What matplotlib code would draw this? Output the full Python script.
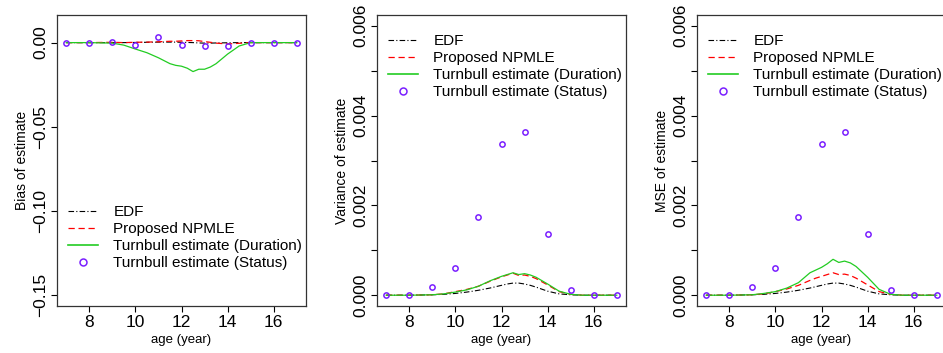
import matplotlib
matplotlib.use("Agg")
import matplotlib.pyplot as plt
from matplotlib.lines import Line2D

plt.rcParams['font.family'] = ['Liberation Sans', 'DejaVu Sans']

# grid ages for the smooth curves
ages = [7, 8, 9, 9.5, 10, 10.5, 11, 11.5, 11.75, 12, 12.25, 12.5, 12.75,
        13, 13.25, 13.5, 14, 14.5, 15, 15.5, 16, 17]
# integer ages for the Turnbull (status) points
ages_status = [7, 8, 9, 10, 11, 12, 13, 14, 15, 16, 17]

# bias
bias_edf = [0, 0, 0, 0, 0.0001, 0.0002, 0.0003, 0.0003, 0.0003, 0.0002, 0.0001,
            0, -0.0002, -0.0003, -0.0003, -0.0002, -0.0001, 0, 0, 0, 0, 0]
bias_npmle = [0, 0, 0.0002, 0, 0.0002, 0.0003, 0.0005, 0.0008, 0.0008, 0.001,
              0.0012, 0.0012, 0.0011, 0.0006, 0.0002, -0.0003, -0.0008,
              -0.0004, 0, 0, 0, 0]
bias_dur = [0, 0, -0.0003, -0.0015, -0.0038, -0.006, -0.009, -0.0125, -0.0135, -0.014,
            -0.0152, -0.0172, -0.0158, -0.0158, -0.0145, -0.0125, -0.0068,
            -0.002, 0, 0, 0, 0]
bias_status = [0, 0, 0.0006, -0.0014, 0.0032, -0.0016, -0.0022, -0.002, 0, 0, 0]

# variance
var_edf = [0, 0, 0.00001, 0.00002, 0.00004, 0.00007, 0.00011, 0.00016, 0.00019,
           0.00022, 0.00025, 0.00027, 0.00027, 0.00025, 0.00022, 0.00018,
           0.00009, 0.00003, 0.00001, 0, 0, 0]
var_npmle = [0, 0, 0.00001, 0.00003, 0.00008, 0.00013, 0.0002, 0.00031, 0.00036,
             0.00041, 0.00045, 0.00049, 0.00044, 0.00045, 0.00042, 0.00037,
             0.00023, 0.00008, 0.00002, 0, 0, 0]
var_dur = [0, 0, 0.00001, 0.00003, 0.00007, 0.00012, 0.0002, 0.00032, 0.00037,
           0.00042, 0.00046, 0.0005, 0.00046, 0.00048, 0.00045, 0.0004,
           0.00025, 0.00009, 0.00002, 0, 0, 0]
var_status = [0, 0, 0.00019, 0.00061, 0.00174, 0.00337, 0.00363, 0.00137,
              0.00012, 0, 0]

# mse
mse_edf = var_edf
mse_npmle = [0, 0, 0.00001, 0.00003, 0.00008, 0.00014, 0.00022, 0.00033, 0.00038,
             0.00042, 0.00046, 0.0005, 0.00046, 0.00047, 0.00044, 0.00038,
             0.00023, 0.00008, 0.00002, 0, 0, 0]
mse_dur = [0, 0, 0.00001, 0.00004, 0.00008, 0.00016, 0.00028, 0.0005, 0.00056,
           0.00062, 0.0007, 0.0008, 0.00073, 0.00076, 0.00072, 0.00064,
           0.0004, 0.00013, 0.00002, 0, 0, 0]
mse_status = [0, 0, 0.00019, 0.00061, 0.00175, 0.00337, 0.00363, 0.00137,
              0.00012, 0, 0]

labels = ["EDF", "Proposed NPMLE", "Turnbull estimate (Duration)",
          "Turnbull estimate (Status)"]
c_green = '#22CC22'
c_purple = '#7A1FFF'

fig = plt.figure(figsize=(9.43, 3.53), dpi=100)
W, H = 943.0, 353.0
lefts = [57, 377, 697]
panels = [
    (bias_edf, bias_npmle, bias_dur, bias_status, "Bias of estimate",
     (-0.1564, 0.0164), [-0.15, -0.10, -0.05, 0.00], ["\u22120.15", "\u22120.10", "\u22120.05", "0.00"], 0.347),
    (var_edf, var_npmle, var_dur, var_status, "Variance of estimate",
     (-0.00024, 0.00624), [0, 0.001, 0.002, 0.003, 0.004, 0.005, 0.006],
     ["0.000", "", "0.002", "", "0.004", "", "0.006"], 0.934),
    (mse_edf, mse_npmle, mse_dur, mse_status, "MSE of estimate",
     (-0.00024, 0.00624), [0, 0.001, 0.002, 0.003, 0.004, 0.005, 0.006],
     ["0.000", "", "0.002", "", "0.004", "", "0.006"], 0.934),
]

for left, (edf, npm, dur, st, ylab, ylim, yt, ytl, legy) in zip(lefts, panels):
    ax = fig.add_axes([left / W, 1 - 306 / H, 249 / W, 291 / H])
    ax.plot(ages, edf, color='black', linestyle=(0, (5, 2, 1, 2)), linewidth=0.8)
    ax.plot(ages, npm, color='red', linestyle=(0, (5, 3)), linewidth=0.9)
    ax.plot(ages, dur, color=c_green, linewidth=0.9)
    ax.plot(ages_status, st, linestyle='none', marker='o', markersize=3.8,
            markerfacecolor='none', markeredgecolor=c_purple, markeredgewidth=1.1)
    ax.set_xlim(6.6, 17.4)
    ax.set_ylim(*ylim)
    ax.set_xticks([8, 10, 12, 14, 16])
    ax.set_yticks(yt)
    ax.set_yticklabels(ytl, rotation=90, va='center')
    ax.tick_params(direction='out', length=4.5, width=0.8, labelsize=12.5, pad=2)
    for s in ax.spines.values():
        s.set_linewidth(0.9)
        s.set_color('#333333')
    ax.set_xlabel("age (year)", fontsize=9.5, labelpad=3)
    ax.set_ylabel(ylab, fontsize=10, labelpad=3)

    handles = [
        Line2D([], [], color='black', linestyle=(0, (5, 2, 1, 2)), linewidth=0.8),
        Line2D([], [], color='red', linestyle=(0, (5, 3)), linewidth=0.9),
        Line2D([], [], color=c_green, linewidth=1.2),
        Line2D([], [], linestyle='none', marker='o', markersize=5,
               markerfacecolor='none', markeredgecolor=c_purple, markeredgewidth=1.1),
    ]
    ax.legend(handles, labels, loc='upper left', bbox_to_anchor=(0.045, legy),
              frameon=False, fontsize=11, borderaxespad=0, borderpad=0,
              handlelength=1.95, handletextpad=1.0, labelspacing=0.2)

fig.savefig("out.png", dpi=100)
